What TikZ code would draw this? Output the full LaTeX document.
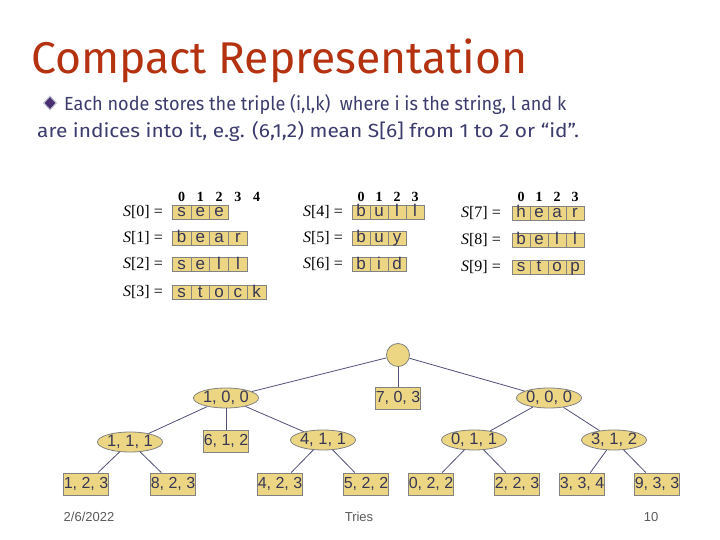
\documentclass[tikz,border=0pt]{standalone}
\usepackage{fontspec}
\setmainfont{Liberation Sans}
\newfontfamily\titlefont{Fira Sans}
\newfontfamily\seriffont{Liberation Serif}
\usetikzlibrary{shapes.geometric}
\definecolor{titlecol}{RGB}{180,50,15}
\definecolor{bodycol}{RGB}{60,60,110}
\definecolor{cellfill}{RGB}{236,214,132}
\definecolor{cellline}{RGB}{130,130,130}
\definecolor{edgecol}{RGB}{80,80,120}
\definecolor{inkcol}{RGB}{55,55,85}
\definecolor{footcol}{RGB}{90,90,90}
\tikzset{
  cell/.style={draw=cellline, fill=cellfill, line width=0.8pt, inner sep=0pt,
    minimum height=14pt, text height=10pt, text depth=0.5pt, text=inkcol, font=\fontsize{17}{17}\selectfont},
  hdr/.style={inner sep=0pt, text height=9pt, text depth=0pt, text=black, font=\seriffont\bfseries\fontsize{14}{14}\selectfont},
  lab/.style={inner sep=0pt, anchor=east, text=black, font=\seriffont\fontsize{16}{16}\selectfont},
  ell/.style={ellipse, draw=cellline, fill=cellfill, line width=0.8pt, inner sep=0pt,
    minimum width=65pt, minimum height=20pt, text=inkcol, font=\fontsize{16.5}{16.5}\selectfont},
  leaf/.style={rectangle, draw=cellline, fill=cellfill, line width=0.8pt, inner sep=0pt,
    minimum width=44pt, minimum height=22pt, text=inkcol, font=\fontsize{16}{16}\selectfont},
  circ/.style={circle, draw=cellline, fill=cellfill, line width=0.8pt, minimum size=23pt, inner sep=0pt},
  edge/.style={draw=edgecol, line width=0.8pt},
  foot/.style={inner sep=0pt, text=footcol, font=\fontsize{13}{13}\selectfont},
  body/.style={anchor=west, inner sep=0pt, text=bodycol, font=\titlefont\fontsize{19}{19}\selectfont},
}
\begin{document}
\begin{tikzpicture}[x=1pt,y=-1pt]
\useasboundingbox (0,0) rectangle (720,540);
\fill[white] (0,0) rectangle (720,540);
% title
\node[anchor=west, inner sep=0pt, text=titlecol, font=\titlefont\fontsize{44.5}{44.5}\selectfont] (title) at (31,61) {Compact Representation};
% bullet
\node[diamond, fill=bodycol!80!violet, draw=bodycol!30, line width=1pt, minimum width=13pt, minimum height=14pt, inner sep=0pt] (bul) at (50,103) {};
\node[body] (l1) at (64,104) {\scalebox{0.953}[1]{Each node stores the triple (i,l,k)\ \ where i is the string, l and k}};
\node[body] (l2) at (37,131) {\scalebox{1.1}[1]{are indices into it, e.g. (6,1,2) mean S[6] from 1 to 2 or “id”.}};
% left table
\foreach \n in {0,...,4} {\node[hdr] (hA\n) at (181.5+18.8*\n,197) {\n};}
\foreach \r/\w/\y in {0/{s,e,e}/212, 1/{b,e,a,r}/238, 2/{s,e,l,l}/264.5, 3/{s,t,o,c,k}/292.5} {
  \node[lab] (lab\r) at (163,\y) {\textit{S}[\r] =};
  \foreach \ch [count=\i from 0] in \w {\node[cell, minimum width=18.8pt] (c\r-\i) at (181.5+18.8*\i,\y) {\ch};}
}
% middle table
\foreach \n in {0,...,3} {\node[hdr] (hB\n) at (361+18*\n,197) {\n};}
\foreach \r/\w/\y in {4/{b,u,l,l}/212, 5/{b,u,y}/238, 6/{b,i,d}/264.5} {
  \node[lab] (lab\r) at (343,\y) {\textit{S}[\r] =};
  \foreach \ch [count=\i from 0] in \w {\node[cell, minimum width=18pt] (c\r-\i) at (361+18*\i,\y) {\ch};}
}
% right table
\foreach \n in {0,...,3} {\node[hdr] (hC\n) at (521+18*\n,197) {\n};}
\foreach \r/\w/\y in {7/{h,e,a,r}/213, 8/{b,e,l,l}/240, 9/{s,t,o,p}/267} {
  \node[lab] (lab\r) at (501,\y) {\textit{S}[\r] =};
  \foreach \ch [count=\i from 0] in \w {\node[cell, minimum width=18pt] (c\r-\i) at (521+18*\i,\y) {\ch};}
}
% tree
\node[circ] (r) at (398,355) {};
\node[ell] (a) at (226,398) {1, 0, 0};
\node[leaf] (b) at (398,398) {7, 0, 3};
\node[ell] (c) at (549,398) {0, 0, 0};
\node[ell] (d) at (130,442) {1, 1, 1};
\node[leaf] (e) at (226,441) {6, 1, 2};
\node[ell] (f) at (323,440) {4, 1, 1};
\node[ell] (g) at (474,440) {0, 1, 1};
\node[ell] (h) at (614,440) {3, 1, 2};
\node[leaf] (l1a) at (86,484) {1, 2, 3};
\node[leaf] (l2a) at (173,484) {8, 2, 3};
\node[leaf] (l3a) at (280,484) {4, 2, 3};
\node[leaf] (l4a) at (366,484) {5, 2, 2};
\node[leaf] (l5a) at (431,484) {0, 2, 2};
\node[leaf] (l6a) at (517,484) {2, 2, 3};
\node[leaf] (l7a) at (582,484) {3, 3, 4};
\node[leaf] (l8a) at (657,484) {9, 3, 3};
\draw[edge] (r) -- (a);
\draw[edge] (r) -- (b);
\draw[edge] (r) -- (c);
\draw[edge] (a) -- (d);
\draw[edge] (a) -- (e);
\draw[edge] (a) -- (f);
\draw[edge] (c) -- (g);
\draw[edge] (c) -- (h);
\draw[edge] (d) -- (l1a);
\draw[edge] (d) -- (l2a);
\draw[edge] (f) -- (l3a);
\draw[edge] (f) -- (l4a);
\draw[edge] (g) -- (l5a);
\draw[edge] (g) -- (l6a);
\draw[edge] (h) -- (l7a);
\draw[edge] (h) -- (l8a);
% footer
\node[foot] (date) at (89,517) {2/6/2022};
\node[foot] (tries) at (359,517) {Tries};
\node[foot] (pg) at (651,517) {10};
\end{tikzpicture}
\end{document}
